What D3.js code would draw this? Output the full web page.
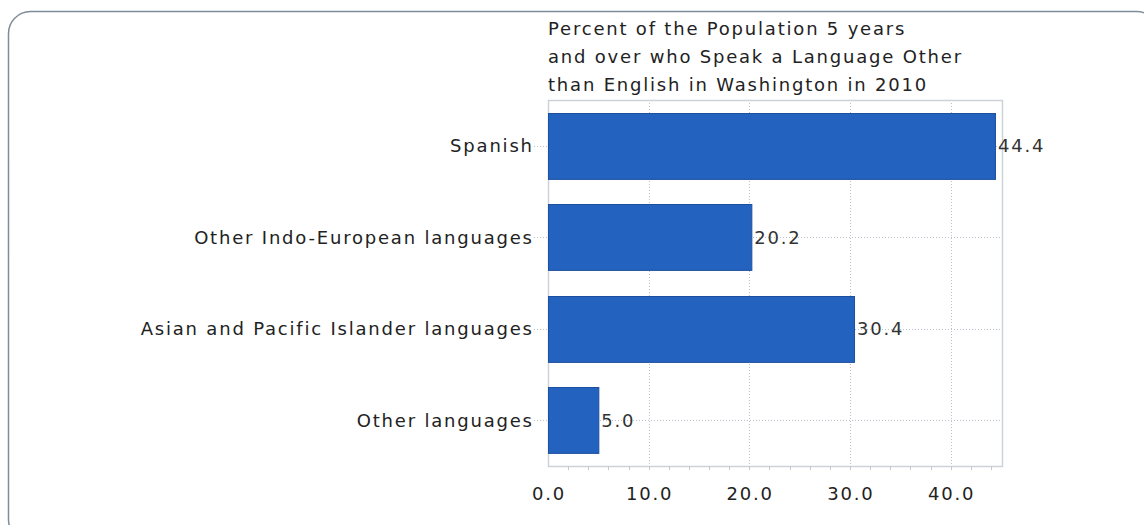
<!DOCTYPE html>
<html>
<head>
<meta charset="utf-8">
<script src="https://cdn.jsdelivr.net/npm/d3@7"></script>
<style>
  body { margin: 0; background: #fff; }
  svg { display: block; font-family: "DejaVu Sans", sans-serif; }
</style>
</head>
<body>
<svg id="chart"></svg>
<script>
const categories = [
  "Spanish",
  "Other Indo-European languages",
  "Asian and Pacific Islander languages",
  "Other languages",
]
const values = [44.4, 20.2, 30.4, 5.0]
const tickValues = [0, 10, 20, 30, 40]
const titleLines = [
  "Percent of the Population 5 years",
  "and over who Speak a Language Other",
  "than English in Washington in 2010",
]

const width = 1144
const height = 525
const margin = { top: 100, right: 142, bottom: 59, left: 548 }
const fontSize = 18
const spacing = 1.8

const svg = d3.select("#chart").attr("width", width).attr("height", height)

// outer frame
svg
  .append("rect")
  .attr("x", 8.5)
  .attr("y", 11.5)
  .attr("width", 1150)
  .attr("height", 530)
  .attr("rx", 22)
  .attr("fill", "none")
  .attr("stroke", "#7f8c99")
  .attr("stroke-width", 1.5)

const x = d3
  .scaleLinear()
  .domain([0, 45.1])
  .range([margin.left, width - margin.right])
const y = d3
  .scaleBand()
  .domain(categories)
  .range([margin.top, height - margin.bottom])
  .paddingInner(0.28)
  .paddingOuter(0.14)

const grid = svg.append("g").attr("stroke", "#b9c2cc").attr("stroke-dasharray", "1,2")

// vertical grid
grid
  .selectAll("line.v")
  .data(tickValues.filter((d) => d > 0))
  .join("line")
  .attr("x1", (d) => Math.round(x(d)) + 0.5)
  .attr("x2", (d) => Math.round(x(d)) + 0.5)
  .attr("y1", margin.top)
  .attr("y2", height - margin.bottom)

// horizontal grid with leaders
grid
  .selectAll("line.h")
  .data(categories)
  .join("line")
  .attr("x1", margin.left - 14)
  .attr("x2", width - margin.right)
  .attr("y1", (d) => Math.round(y(d) + y.bandwidth() / 2) + 0.5)
  .attr("y2", (d) => Math.round(y(d) + y.bandwidth() / 2) + 0.5)

// plot frame
svg
  .append("rect")
  .attr("x", margin.left + 0.5)
  .attr("y", margin.top + 0.5)
  .attr("width", width - margin.right - margin.left)
  .attr("height", height - margin.bottom - margin.top)
  .attr("fill", "none")
  .attr("stroke", "#cdd2d8")
  .attr("stroke-width", 1.5)

// bars
svg
  .append("g")
  .selectAll("rect")
  .data(values)
  .join("rect")
  .attr("x", x(0) + 0.5)
  .attr("y", (d, i) => Math.round(y(categories[i])) + 0.5)
  .attr("width", (d) => x(d) - x(0))
  .attr("height", y.bandwidth())
  .attr("fill", "#2462c0")
  .attr("stroke", "#1c4f9e")

const textStyle = (sel) =>
  sel
    .attr("font-size", fontSize)
    .attr("letter-spacing", spacing)
    .attr("fill", "#222")

// value labels
svg
  .append("g")
  .selectAll("text")
  .data(values)
  .join("text")
  .attr("x", (d) => x(d) + 3)
  .attr("y", (d, i) => y(categories[i]) + y.bandwidth() / 2)
  .attr("dy", "0.36em")
  .call(textStyle)
  .attr("fill", "#333")
  .text((d) => d.toFixed(1))

// category labels
svg
  .append("g")
  .selectAll("text")
  .data(categories)
  .join("text")
  .attr("x", margin.left - 16 + spacing)
  .attr("y", (d) => y(d) + y.bandwidth() / 2)
  .attr("dy", "0.36em")
  .attr("text-anchor", "end")
  .call(textStyle)
  .text((d) => d)

// x axis minor ticks
const axisY = height - margin.bottom
svg
  .append("g")
  .attr("stroke", "#c3c9d0")
  .selectAll("line")
  .data(d3.range(2, 45, 2))
  .join("line")
  .attr("x1", (d) => Math.round(x(d)) + 0.5)
  .attr("x2", (d) => Math.round(x(d)) + 0.5)
  .attr("y1", axisY)
  .attr("y2", axisY + 4)

svg
  .append("g")
  .selectAll("text")
  .data(tickValues)
  .join("text")
  .attr("x", (d) => x(d) + spacing / 2)
  .attr("y", axisY + 34)
  .attr("text-anchor", "middle")
  .call(textStyle)
  .text((d) => d.toFixed(1))

// title
svg
  .append("g")
  .selectAll("text")
  .data(titleLines)
  .join("text")
  .attr("x", margin.left)
  .attr("y", (d, i) => 35 + i * 28)
  .call(textStyle)
  .text((d) => d)
</script>
</body>
</html>
